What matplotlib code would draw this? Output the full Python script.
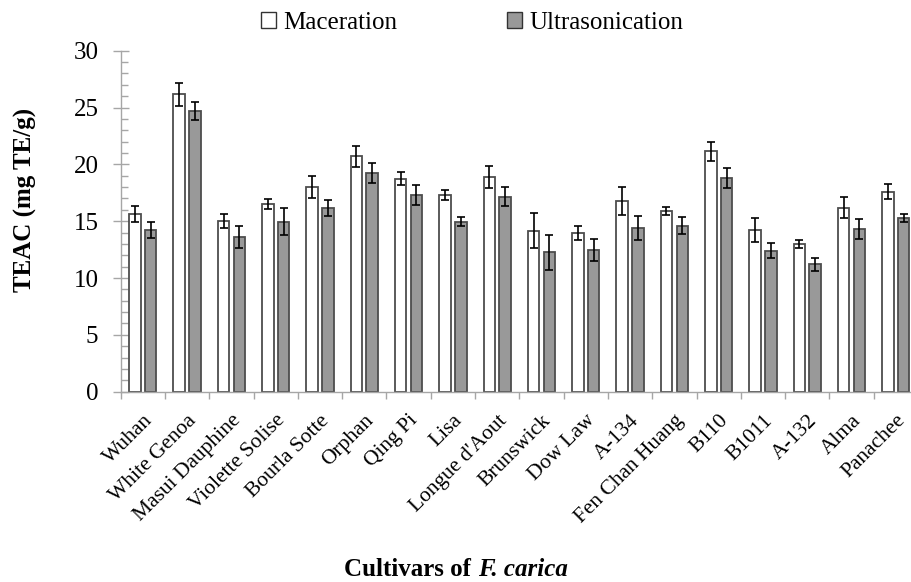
import matplotlib
matplotlib.use("Agg")
import matplotlib.pyplot as plt
import numpy as np
from matplotlib.patches import Patch
from matplotlib.ticker import MultipleLocator, FixedLocator

plt.rcParams['font.family'] = ['Liberation Serif', 'DejaVu Serif']

cultivars = ["Wuhan", "White Genoa", "Masui Dauphine", "Violette Solise", "Bourla Sotte",
             "Orphan", "Qing Pi", "Lisa", "Longue d'Aout", "Brunswick", "Dow Law", "A-134",
             "Fen Chan Huang", "B110", "B1011", "A-132", "Alma", "Panachee"]
maceration = [15.6, 26.15, 15.0, 16.5, 18.0, 20.7, 18.75, 17.3, 18.9, 14.15, 13.95, 16.8,
              15.9, 21.15, 14.25, 13.0, 16.2, 17.6]
maceration_err = [0.7, 1.0, 0.6, 0.45, 0.95, 0.95, 0.6, 0.47, 1.0, 1.55, 0.6, 1.25,
                  0.35, 0.82, 1.05, 0.35, 0.95, 0.65]
ultrasonication = [14.2, 24.7, 13.6, 14.95, 16.15, 19.25, 17.3, 14.95, 17.15, 12.25, 12.5, 14.4,
                   14.6, 18.8, 12.4, 11.2, 14.3, 15.25]
ultrasonication_err = [0.7, 0.8, 0.95, 1.17, 0.73, 0.9, 0.9, 0.38, 0.85, 1.52, 0.97, 1.03,
                       0.76, 0.85, 0.65, 0.59, 0.88, 0.35]

W, H = 912, 582
fig = plt.figure(figsize=(W/100, H/100), dpi=100)
ax = fig.add_axes([120.7/W, 1-391.7/H, (918-120.7)/W, (391.7-50.7)/H])

x = np.arange(len(cultivars))
w = 0.26
off = 0.178
edge = '#4d4d4d'
ax.bar(x - off, maceration, w, color='white', edgecolor=edge, linewidth=1.3, zorder=2)
ax.bar(x + off, ultrasonication, w, color='#999999', edgecolor=edge, linewidth=1.3, zorder=2)
ax.errorbar(x - off, maceration, yerr=maceration_err, fmt='none', ecolor='black',
            elinewidth=1.2, capsize=3, capthick=1.2, zorder=3)
ax.errorbar(x + off, ultrasonication, yerr=ultrasonication_err, fmt='none', ecolor='black',
            elinewidth=1.2, capsize=3, capthick=1.2, zorder=3)

ax.set_xlim(-0.5, len(cultivars) - 0.5)
ax.set_ylim(0, 30)
ax.yaxis.set_major_locator(MultipleLocator(5))
ax.yaxis.set_minor_locator(MultipleLocator(1))
ax.tick_params(axis='y', which='major', direction='inout', length=11, width=1,
               color='#a6a6a6', labelsize=18, pad=10.5)
ax.tick_params(axis='y', which='minor', direction='in', length=5, width=1, color='#a6a6a6')

ax.xaxis.set_major_locator(FixedLocator(np.arange(-0.5, len(cultivars) + 0.5, 1)))
ax.xaxis.set_major_formatter(plt.NullFormatter())
ax.set_xticks(x, minor=True)
ax.set_xticklabels(cultivars, minor=True, rotation=45, ha='right', rotation_mode='anchor',
                   fontsize=15.5)
ax.tick_params(axis='x', which='major', direction='out', length=5, width=1, color='#a6a6a6')
ax.tick_params(axis='x', which='minor', length=0, pad=14)

for s in ['top', 'right']:
    ax.spines[s].set_visible(False)
for s in ['left', 'bottom']:
    ax.spines[s].set_color('#a6a6a6')
    ax.spines[s].set_linewidth(1)

fig.text(25/W, 1-200/H, 'TEAC (mg TE/g)', rotation=90, ha='center', va='center',
         fontsize=18, fontweight='bold')

# x-axis title: bold part + bold italic part
t1 = fig.text(0, 1-576/H, 'Cultivars of ', ha='left', va='baseline',
              fontsize=18, fontweight='bold')
t2 = fig.text(0, 1-576/H, 'F. carica', ha='left', va='baseline',
              fontsize=18, fontweight='bold', fontstyle='italic')
fig.canvas.draw()
r = fig.canvas.get_renderer()
w1 = t1.get_window_extent(r).width
w2 = t2.get_window_extent(r).width
start = 456 - (w1 + w2) / 2
t1.set_x(start / W)
t2.set_x((start + w1) / W)

handles = [Patch(facecolor='white', edgecolor='#333333', linewidth=1),
           Patch(facecolor='#999999', edgecolor='#333333', linewidth=1)]
fig.legend(handles, ['Maceration', 'Ultrasonication'], loc='center',
           bbox_to_anchor=(472/W, 1-23/H), ncol=2, frameon=False, fontsize=18,
           handlelength=0.6, handleheight=0.6, handletextpad=0.3, columnspacing=4.4,
           borderpad=0, borderaxespad=0)

fig.savefig('out.png', dpi=100)
